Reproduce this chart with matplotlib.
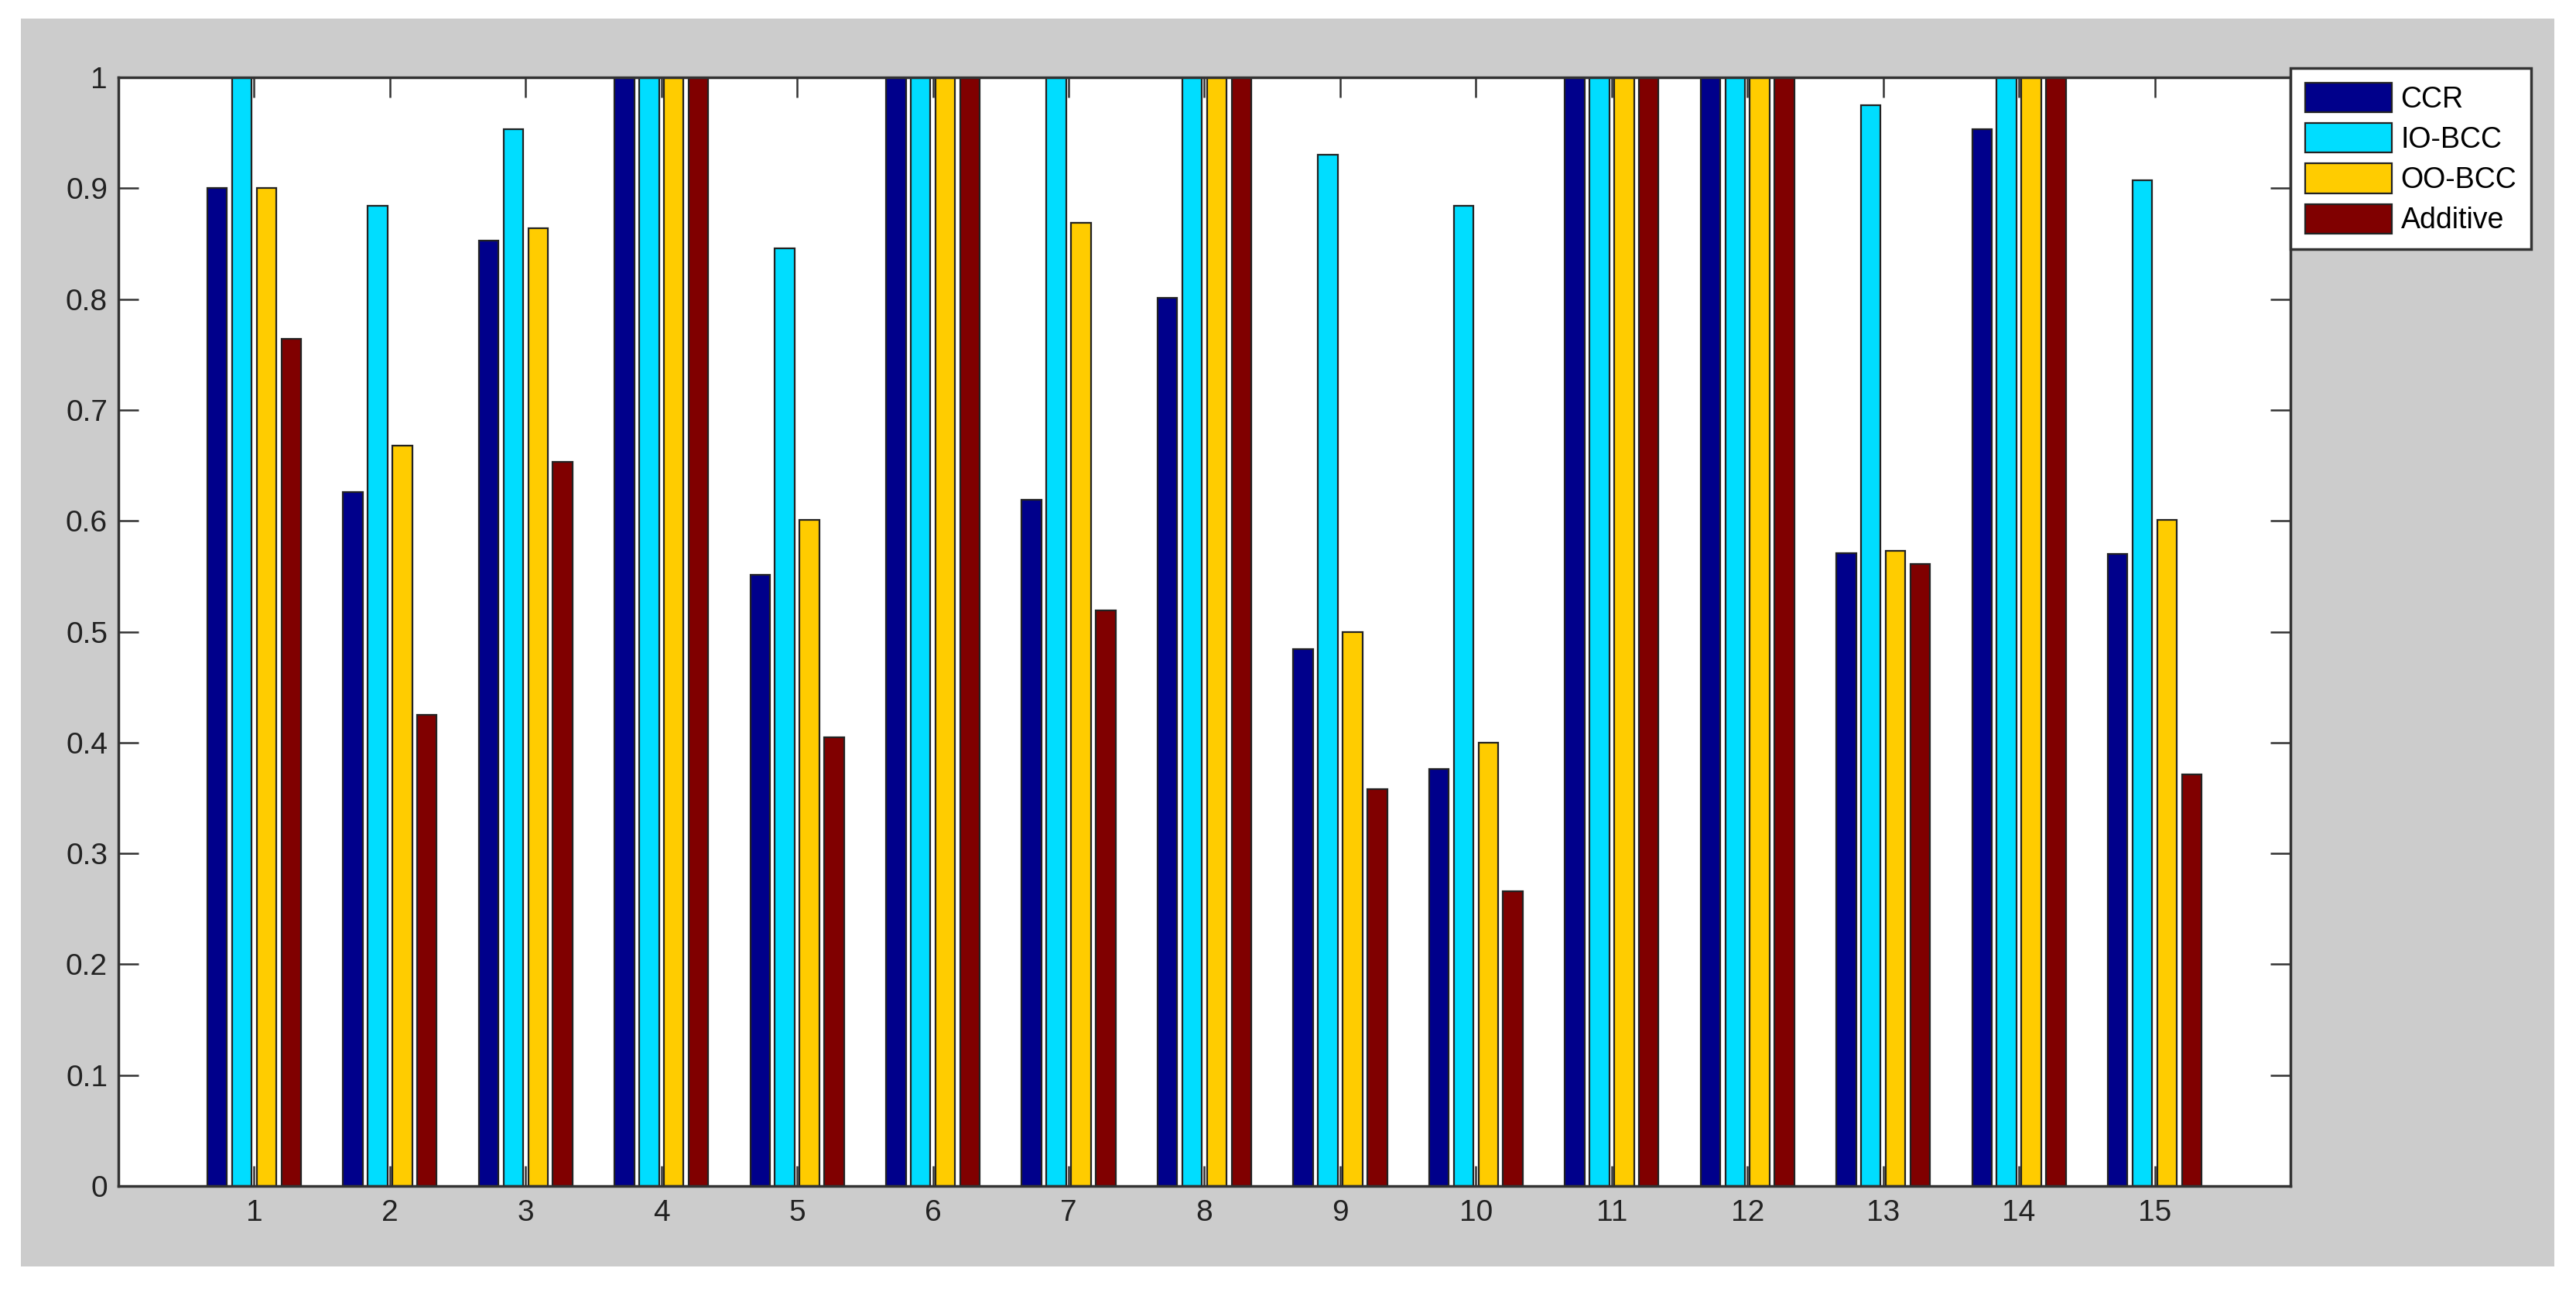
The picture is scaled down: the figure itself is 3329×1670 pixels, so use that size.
import matplotlib
matplotlib.use("Agg")
import matplotlib.pyplot as plt
from matplotlib.patches import Rectangle
import numpy as np

plt.rcParams['font.family'] = ['Liberation Sans', 'DejaVu Sans']

categories = [str(i) for i in range(1, 16)]
series_names = ["CCR", "IO-BCC", "OO-BCC", "Additive"]
ccr      = [0.900, 0.626, 0.853, 1.0, 0.551, 1.0, 0.619, 0.801, 0.484, 0.376, 1.0, 1.0, 0.571, 0.953, 0.570]
io_bcc   = [1.0,   0.884, 0.953, 1.0, 0.846, 1.0, 1.0,   1.0,   0.930, 0.884, 1.0, 1.0, 0.975, 1.0,   0.907]
oo_bcc   = [0.900, 0.668, 0.864, 1.0, 0.601, 1.0, 0.869, 1.0,   0.500, 0.400, 1.0, 1.0, 0.573, 1.0,   0.601]
additive = [0.764, 0.425, 0.653, 1.0, 0.405, 1.0, 0.519, 1.0,   0.358, 0.266, 1.0, 1.0, 0.561, 1.0,   0.371]
y_ticks = [0, 0.1, 0.2, 0.3, 0.4, 0.5, 0.6, 0.7, 0.8, 0.9, 1]
y_tick_labels = ["0", "0.1", "0.2", "0.3", "0.4", "0.5", "0.6", "0.7", "0.8", "0.9", "1"]

colors = ["#00008B", "#00DDFF", "#FFCC00", "#800000"]

W, H = 3330, 1670
fig = plt.figure(figsize=(W / 100, H / 100), dpi=100, facecolor="white")

# gray figure panel
bg = Rectangle((27 / W, 1 - 1637 / H), (3301 - 27) / W, (1637 - 24) / H,
               transform=fig.transFigure, facecolor="#CCCCCC",
               edgecolor="none", zorder=-10)
fig.add_artist(bg)

ax = fig.add_axes([153 / W, 1 - 1533 / H, (2960 - 153) / W, (1533 - 100) / H])
ax.set_zorder(1)
ax.set_facecolor("white")

x = np.arange(1, len(categories) + 1)
n = 4
group_w = n / (n + 1.5)
step = group_w / n
bar_w = 0.8 * step
all_series = [ccr, io_bcc, oo_bcc, additive]
for i, (vals, name, c) in enumerate(zip(all_series, series_names, colors)):
    ax.bar(x + (i - 1.5) * step, vals, width=bar_w, color=c, edgecolor="#222222",
           linewidth=1.6, label=name, zorder=3)

ax.set_xlim(0, 16)
ax.set_ylim(0, 1)
ax.set_xticks(x)
ax.set_xticklabels(categories)
ax.set_yticks(y_ticks)
ax.set_yticklabels(y_tick_labels)

ax.tick_params(direction="in", top=True, right=True, length=19, width=1.8,
               color="#333333", labelsize=28, labelcolor="#222222")
ax.tick_params(axis="x", pad=12)
ax.tick_params(axis="y", pad=10)
for sp in ax.spines.values():
    sp.set_linewidth(2.5)
    sp.set_color("#333333")
    sp.set_zorder(5)

leg = ax.legend(loc="upper left", bbox_to_anchor=(2960 / W, 1 - 88 / H),
                bbox_transform=fig.transFigure, borderaxespad=0, fancybox=False,
                frameon=True, fontsize=27, handlelength=3.0, handleheight=1.2,
                handletextpad=0.3, labelspacing=0.33, borderpad=0.5)
frame = leg.get_frame()
frame.set_edgecolor("#333333")
frame.set_linewidth(2.5)
frame.set_facecolor("white")
frame.set_alpha(1)

fig.savefig("out.png", dpi=100, facecolor="white")
